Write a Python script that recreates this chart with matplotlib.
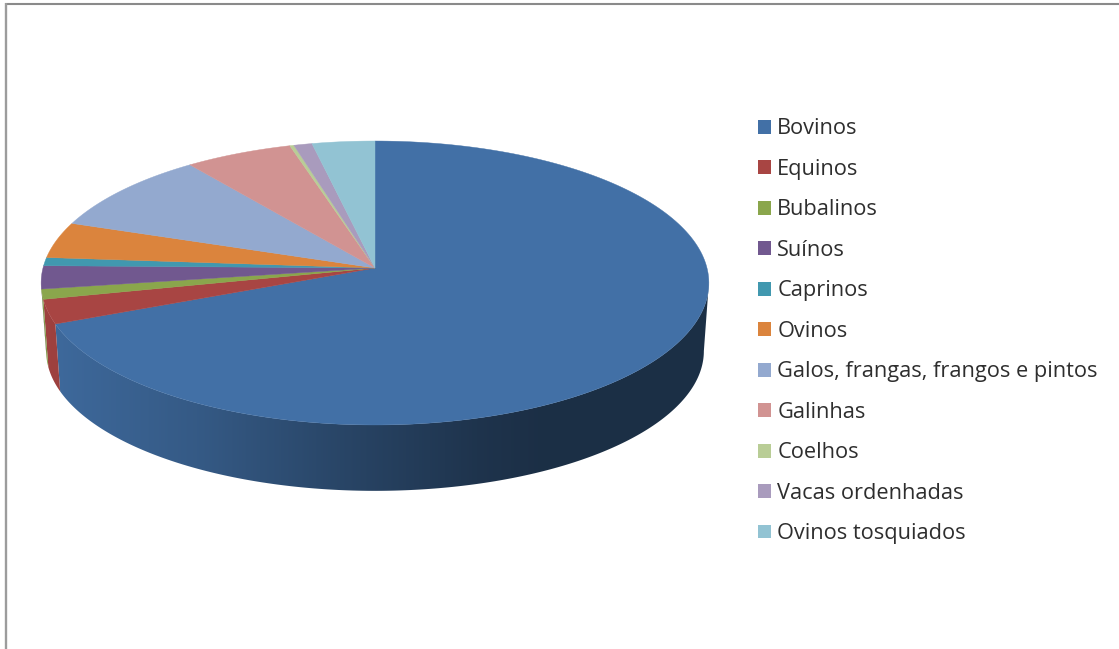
import numpy as np
import matplotlib
matplotlib.use("Agg")
import matplotlib.pyplot as plt
from matplotlib.patches import Patch, Polygon

# herd shares in percent, clockwise from twelve o'clock
labels = ["Bovinos", "Equinos", "Bubalinos", "Suínos", "Caprinos", "Ovinos",
          "Galos, frangas, frangos e pintos", "Galinhas", "Coelhos",
          "Vacas ordenhadas", "Ovinos tosquiados"]
shares = [68.75, 2.75, 1.14, 2.62, 0.94, 4.13, 9.34, 5.77, 0.22, 0.98, 3.36]
colors = ["#4270a6", "#a84543", "#8aa64c", "#71588f", "#4198af", "#db843d",
          "#93a9cf", "#d19392", "#b9cd96", "#a99bbd", "#92c3d3"]

# wall shading: pixel column -> brightness
shade_x = [40, 200, 340, 480, 540, 709]
shade_v = [0.95, 0.80, 0.62, 0.46, 0.42, 0.42]

# pie geometry
apex_x, apex_y = 375, 268
scale_x, scale_y = 332, 140.4
persp = 0.1056
wall_h = 68
wall_s = 0.985
ell_cy = 283

# rim angles where the disc reaches its widest points, the wall shows between them
front_from = np.arccos(-persp)
front_to = 2 * np.pi - front_from


def rim(theta):
    # circle seen in perspective, theta clockwise from the top
    x, y = np.sin(theta), np.cos(theta)
    w = 1 + persp * y
    return apex_x + scale_x * x / w, apex_y - scale_y * y / w


def rim_low(theta):
    px, py = rim(theta)
    return apex_x + (px - apex_x) * wall_s, ell_cy + wall_h + (py - ell_cy) * wall_s


fig = plt.figure(figsize=(11.19, 6.49), dpi=100)
ax = fig.add_axes([0, 0, 1, 1])

edges = np.radians(np.concatenate([[0], np.cumsum(shares)]) * 3.6)

# outer walls first, top faces are painted over them
for i, c in enumerate(colors):
    start = max(edges[i], front_from)
    stop = min(edges[i + 1], front_to)
    if stop <= start:
        continue
    th = np.linspace(start, stop, 200)
    tx, ty = rim(th)
    bx, by = rim_low(th)
    poly = Polygon(np.column_stack([np.r_[tx, bx[::-1]], np.r_[ty, by[::-1]]]),
                   closed=True, fc="none", ec="none")
    ax.add_patch(poly)
    rgb = np.array(matplotlib.colors.to_rgb(c))
    cols = np.arange(30, 720)
    v = np.interp(cols, shade_x, shade_v)
    strip = np.clip(v[None, :, None] * rgb[None, None, :], 0, 1)
    im = ax.imshow(strip, extent=[30, 720, 520, 120], aspect="auto", zorder=1,
                   interpolation="bilinear")
    im.set_clip_path(poly)

for i, c in enumerate(colors):
    th = np.linspace(edges[i], edges[i + 1], 200)
    tx, ty = rim(th)
    ax.fill(np.r_[apex_x, tx], np.r_[apex_y, ty], color=c, lw=0.3, zorder=2)

ax.set_xlim(0, 1119)
ax.set_ylim(649, 0)
ax.axis("off")

# frame, only top and left show
ax.plot([5, 1119], [4, 4], color="#8a8a8a", lw=1.5, zorder=3, solid_capstyle="butt")
ax.plot([6, 6], [3, 649], color="#9c9c9c", lw=1.7, zorder=3, solid_capstyle="butt")

handles = [Patch(fc=c, ec="none", label=l) for c, l in zip(colors, labels)]
ax.legend(handles=handles, loc="upper left", bbox_to_anchor=(758, 118.5),
          bbox_transform=ax.transData, frameon=False,
          prop={"family": "Open Sans", "size": 15.7},
          labelcolor="#2e2e2e", handlelength=0.6, handleheight=0.6,
          handletextpad=0.28, labelspacing=0.893, borderpad=0, borderaxespad=0)

fig.savefig("out.png", dpi=100)
